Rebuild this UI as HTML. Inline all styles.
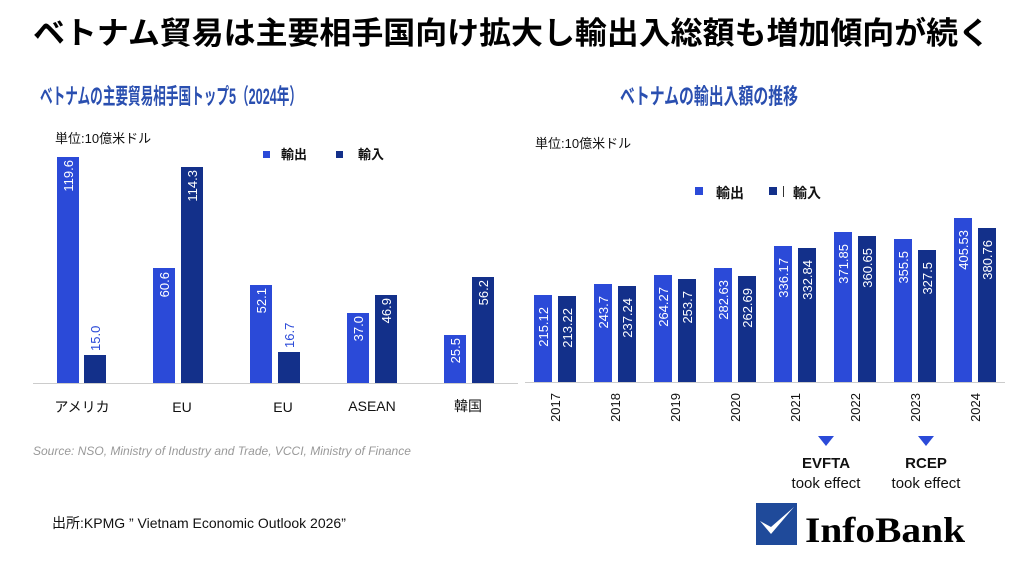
<!DOCTYPE html>
<html><head><meta charset="utf-8"><style>
html,body{margin:0;padding:0;background:#fff;}
svg{display:block;}
.s{font-family:"Liberation Sans","Noto Sans CJK JP",sans-serif;}
</style></head><body>
<svg width="1024" height="566" viewBox="0 0 1024 566" xmlns="http://www.w3.org/2000/svg" class="s" font-family="Liberation Sans, Noto Sans CJK JP, sans-serif">
<rect width="1024" height="566" fill="#fff"/>
<text x="33" y="44" font-size="31" font-weight="bold" fill="#000" textLength="957" lengthAdjust="spacingAndGlyphs">ベトナム貿易は主要相手国向け拡大し輸出入総額も増加傾向が続く</text>
<text x="40" y="104" font-size="22" font-weight="bold" fill="#2a4fb0" textLength="262" lengthAdjust="spacingAndGlyphs">ベトナムの主要貿易相手国トップ5（2024年）</text>
<text x="620" y="104" font-size="22" font-weight="bold" fill="#2a4fb0" textLength="178" lengthAdjust="spacingAndGlyphs">ベトナムの輸出入額の推移</text>

<!-- left chart -->
<text x="55" y="143" font-size="13" fill="#111">単位:10億米ドル</text>
<rect x="263" y="151" width="7" height="7" fill="#2b4ad8"/>
<text x="281" y="159" font-size="13" font-weight="bold" fill="#111">輸出</text>
<rect x="336" y="151" width="7" height="7" fill="#13308a"/>
<text x="358" y="159" font-size="13" font-weight="bold" fill="#111">輸入</text>
<line x1="33" y1="383.5" x2="518" y2="383.5" stroke="#ccc" stroke-width="1"/>
<g fill="#2b4ad8">
<rect x="57" y="157" width="22" height="226"/>
<rect x="153" y="268" width="22" height="115"/>
<rect x="250" y="285" width="22" height="98"/>
<rect x="347" y="313" width="22" height="70"/>
<rect x="444" y="335" width="22" height="48"/>
</g>
<g fill="#13308a">
<rect x="84" y="355" width="22" height="28"/>
<rect x="181" y="167" width="22" height="216"/>
<rect x="278" y="352" width="22" height="31"/>
<rect x="375" y="295" width="22" height="88"/>
<rect x="472" y="277" width="22" height="106"/>
</g>
<g font-size="13" fill="#fff" text-anchor="end">
<text transform="translate(73,160) rotate(-90)">119.6</text>
<text transform="translate(197,170) rotate(-90)">114.3</text>
<text transform="translate(169,272) rotate(-90)">60.6</text>
<text transform="translate(266,288) rotate(-90)">52.1</text>
<text transform="translate(363,316) rotate(-90)">37.0</text>
<text transform="translate(391,298) rotate(-90)">46.9</text>
<text transform="translate(460,338) rotate(-90)">25.5</text>
<text transform="translate(488,280) rotate(-90)">56.2</text>
</g>
<g font-size="13" fill="#2b4ad8">
<text transform="translate(100,351) rotate(-90)">15.0</text>
<text transform="translate(294,348) rotate(-90)">16.7</text>
</g>
<g font-size="14" fill="#111" text-anchor="middle">
<text x="82" y="412">アメリカ</text>
<text x="182" y="412">EU</text>
<text x="283" y="412">EU</text>
<text x="372" y="411">ASEAN</text>
<text x="468" y="411">韓国</text>
</g>
<text x="33" y="455" font-size="12" font-style="italic" fill="#999">Source: NSO, Ministry of Industry and Trade, VCCI, Ministry of Finance</text>
<text x="52" y="528" font-size="14" fill="#111">出所:KPMG  ” Vietnam Economic Outlook 2026”</text>

<!-- right chart -->
<text x="535" y="148" font-size="13" fill="#111">単位:10億米ドル</text>
<rect x="695" y="187" width="8" height="8" fill="#2b4ad8"/>
<text x="716" y="198" font-size="14" font-weight="bold" fill="#111">輸出</text>
<rect x="769" y="187" width="8" height="8" fill="#13308a"/>
<line x1="783.5" y1="186" x2="783.5" y2="197" stroke="#333" stroke-width="1"/>
<text x="793" y="198" font-size="14" font-weight="bold" fill="#111">輸入</text>
<line x1="525" y1="382.5" x2="1005" y2="382.5" stroke="#ccc" stroke-width="1"/>
<g fill="#2b4ad8">
<rect x="534" y="295" width="18" height="87"/>
<rect x="594" y="284" width="18" height="98"/>
<rect x="654" y="275" width="18" height="107"/>
<rect x="714" y="268" width="18" height="114"/>
<rect x="774" y="246" width="18" height="136"/>
<rect x="834" y="232" width="18" height="150"/>
<rect x="894" y="239" width="18" height="143"/>
<rect x="954" y="218" width="18" height="164"/>
</g>
<g fill="#13308a">
<rect x="558" y="296" width="18" height="86"/>
<rect x="618" y="286" width="18" height="96"/>
<rect x="678" y="279" width="18" height="103"/>
<rect x="738" y="276" width="18" height="106"/>
<rect x="798" y="248" width="18" height="134"/>
<rect x="858" y="236" width="18" height="146"/>
<rect x="918" y="250" width="18" height="132"/>
<rect x="978" y="228" width="18" height="154"/>
</g>
<g font-size="13" fill="#fff" text-anchor="end">
<text transform="translate(548,307) rotate(-90)">215.12</text>
<text transform="translate(572,308) rotate(-90)">213.22</text>
<text transform="translate(608,296) rotate(-90)">243.7</text>
<text transform="translate(632,298) rotate(-90)">237.24</text>
<text transform="translate(668,287) rotate(-90)">264.27</text>
<text transform="translate(692,291) rotate(-90)">253.7</text>
<text transform="translate(728,280) rotate(-90)">282.63</text>
<text transform="translate(752,288) rotate(-90)">262.69</text>
<text transform="translate(788,258) rotate(-90)">336.17</text>
<text transform="translate(812,260) rotate(-90)">332.84</text>
<text transform="translate(848,244) rotate(-90)">371.85</text>
<text transform="translate(872,248) rotate(-90)">360.65</text>
<text transform="translate(908,251) rotate(-90)">355.5</text>
<text transform="translate(932,262) rotate(-90)">327.5</text>
<text transform="translate(968,230) rotate(-90)">405.53</text>
<text transform="translate(992,240) rotate(-90)">380.76</text>
</g>
<g font-size="13" fill="#111" text-anchor="end">
<text transform="translate(560,393) rotate(-90)">2017</text>
<text transform="translate(620,393) rotate(-90)">2018</text>
<text transform="translate(680,393) rotate(-90)">2019</text>
<text transform="translate(740,393) rotate(-90)">2020</text>
<text transform="translate(800,393) rotate(-90)">2021</text>
<text transform="translate(860,393) rotate(-90)">2022</text>
<text transform="translate(920,393) rotate(-90)">2023</text>
<text transform="translate(980,393) rotate(-90)">2024</text>
</g>
<polygon points="818,436 834,436 826,446" fill="#2b4ad8"/>
<polygon points="918,436 934,436 926,446" fill="#2b4ad8"/>
<g text-anchor="middle" fill="#111">
<text x="826" y="468" font-size="15" font-weight="bold">EVFTA</text>
<text x="826" y="488" font-size="15">took effect</text>
<text x="926" y="468" font-size="15" font-weight="bold">RCEP</text>
<text x="926" y="488" font-size="15">took effect</text>
</g>
<rect x="756" y="503" width="41" height="42" fill="#1f4a9a"/>
<path d="M760 521 L771 534 L794 507 L771 527 Z" fill="#fff"/>
<text x="805" y="542" style="font-family:'Liberation Serif',serif" font-size="36" font-weight="bold" fill="#000" textLength="160" lengthAdjust="spacingAndGlyphs">InfoBank</text>
</svg>
</body></html>
